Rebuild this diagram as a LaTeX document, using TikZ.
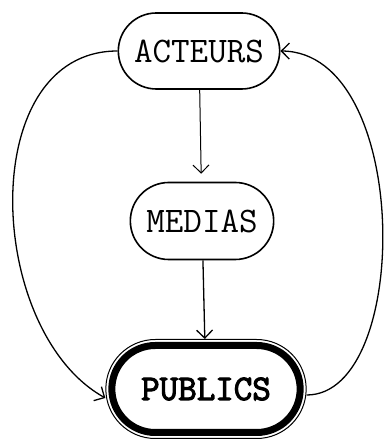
\documentclass[tikz,border=0pt]{standalone}
\usepackage{fontspec}
\newfontfamily\mono{Latin Modern Mono}
\newfontfamily\boldmono{Latin Modern Mono}[FakeBold=3]
\usetikzlibrary{shapes.misc,arrows.meta}
\begin{document}
\begin{tikzpicture}[x=1pt,y=1pt,
  pill/.style={rounded rectangle,draw,line width=1.6pt,font=\mono\fontsize{36}{40}\selectfont},
  flow/.style={line width=1.3pt,-{Straight Barb[length=8pt,width=16pt]}}]
\useasboundingbox (0,0) rectangle (388,441);

\node[pill,minimum width=168,minimum height=76] (act) at (199,390) {ACTEURS};
\node[pill,minimum width=150,minimum height=77] (med) at (202,220) {MEDIAS};
\node[pill,line width=7pt,minimum width=195,minimum height=87,
  font=\boldmono\fontsize{36}{40}\selectfont] (pub) at (206,52) {PUBLICS};
\node[rounded rectangle,draw,line width=1pt,minimum width=207,minimum height=99] (pubring) at (pub) {};

\draw[flow,line width=1pt,shorten >=8pt] (act) -- (med);
\draw[flow] (med) -- (pubring);

\draw[flow] (act.west) .. controls (-25,390) and (-15,110) .. ([yshift=-9]pubring.west);
\draw[flow] ([yshift=-6]pubring.east) .. controls (412,46) and (412,389) .. (act.east);
\end{tikzpicture}
\end{document}
